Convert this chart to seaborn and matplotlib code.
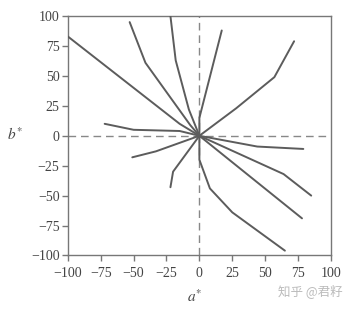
import matplotlib
matplotlib.use("Agg")
import matplotlib.pyplot as plt
import seaborn as sns
import pandas as pd

# ---- data ----
line_ids = [1, 1, 1,
            2, 2, 2, 2,
            3, 3, 3, 3,
            4, 4, 4,
            5, 5, 5, 5,
            6, 6, 6,
            7, 7, 7,
            8, 8,
            9, 9, 9, 9, 9,
            10, 10, 10, 10,
            11, 11, 11,
            12, 12, 12]
a_vals = [-100, -15, 0,
          -53, -41, -7, 0,
          -22, -18, -8, 0,
          17, 0, 0,
          72, 57, 28, 0,
          0, 44, 79,
          0, 64, 85,
          0, 78,
          0, 0, 8, 25, 65,
          -72, -50, -15, 0,
          -51, -33, 0,
          -22, -20, 0]
b_vals = [83, 10, 0,
          95, 61, 9, 0,
          100, 63, 22, 0,
          88, 15, 0,
          79, 49, 23, 0,
          0, -9, -11,
          0, -32, -50,
          0, -69,
          0, -20, -44, -64, -96,
          10, 5, 4, 0,
          -18, -13, 0,
          -43, -30, 0]
tick_values = [-100, -75, -50, -25, 0, 25, 50, 75, 100]
x_label = "a*"
y_label = "b*"
watermark = "知乎 @君籽"

df = pd.DataFrame({"line": line_ids, "a": a_vals, "b": b_vals})

sns.set_style("ticks")
plt.rcParams["font.family"] = ["Liberation Serif", "DejaVu Serif"]
plt.rcParams["mathtext.fontset"] = "stix"

fig = plt.figure(figsize=(3.57, 3.10), dpi=100)
ax = fig.add_axes([0.190, 0.176, 0.737, 0.772])

frame_col = "#777777"
line_col = "#5c5c5c"

ax.axhline(0, color="#888888", lw=1.0, dashes=(5.5, 3.5), zorder=1)
ax.axvline(0, color="#888888", lw=1.0, dashes=(5.5, 3.5), zorder=1)

sns.lineplot(data=df, x="a", y="b", units="line", estimator=None, sort=False,
             color=line_col, lw=1.4, ax=ax, legend=False, zorder=3)

ax.set_xlim(-100, 100)
ax.set_ylim(-100, 100)
ax.set_xticks(tick_values)
ax.set_yticks(tick_values)
fmt = lambda v: ("\u2212" + str(abs(v))) if v < 0 else str(v)
ax.set_xticklabels([fmt(v) for v in tick_values])
ax.set_yticklabels([fmt(v) for v in tick_values])
ax.tick_params(axis="both", direction="out", length=4, width=1, color=frame_col,
               labelsize=10, labelcolor="#444444", pad=2)
ax.tick_params(axis="x", pad=4)
for s in ax.spines.values():
    s.set_visible(True)
    s.set_color(frame_col)
    s.set_linewidth(1.0)

ax.set_xlabel("")
ax.set_ylabel("")
fig.text(195 / 357, 1 - 297 / 310, r"$a^{*}$", ha="center", va="center",
         fontsize=11, color="#444444")
fig.text(15 / 357, 1 - 135 / 310, r"$b^{*}$", ha="center", va="center",
         fontsize=11, color="#444444")

fig.text(310 / 357, 1 - 291 / 310, watermark, ha="center", va="center",
         fontsize=9, color="#bbbbbb", family=["Noto Sans CJK SC", "DejaVu Sans"])

fig.savefig("out.png", dpi=100, facecolor="white")
